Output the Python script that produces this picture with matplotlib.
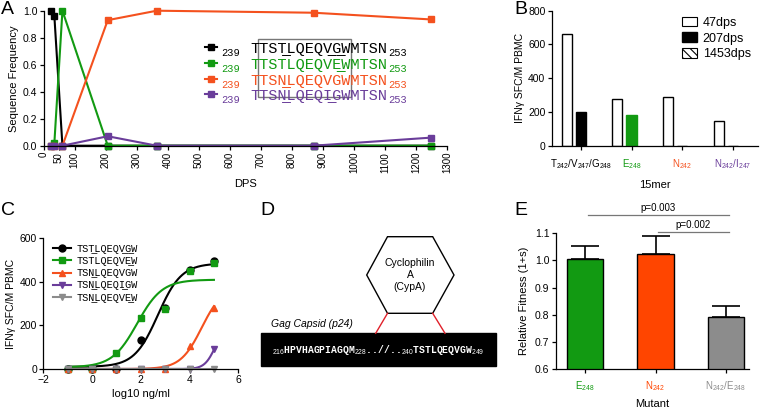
import numpy as np
import matplotlib
matplotlib.use('Agg')
import matplotlib.pyplot as plt
import matplotlib.patches as mpatches
import matplotlib.lines as mlines
from matplotlib.patches import Rectangle, Polygon

plt.rcParams['font.family'] = ['Liberation Sans', 'DejaVu Sans']
plt.rcParams['mathtext.fontset'] = 'custom'
plt.rcParams['mathtext.rm'] = 'Liberation Sans'
plt.rcParams['mathtext.it'] = 'Liberation Sans:italic'
plt.rcParams['mathtext.bf'] = 'Liberation Sans:bold'
plt.rcParams['hatch.linewidth'] = 0.8
plt.rcParams['axes.linewidth'] = 0.9
plt.rcParams['xtick.major.width'] = 0.9
plt.rcParams['ytick.major.width'] = 0.9
plt.rcParams['xtick.major.size'] = 3
plt.rcParams['ytick.major.size'] = 3

GREEN = '#129a12'
RED = '#f4511e'
PURPLE = '#6a3d9a'
GRAY = '#8c8c8c'
ORANGE = '#ff4500'
MONO = ['Liberation Mono', 'DejaVu Sans Mono']
UL = '\u0332'

# ---- panel A data ----
dps = [24, 35, 61, 207, 365, 870, 1250]
freq_wt = [1.0, 0.96, 0.0, 0.0, 0.0, 0.0, 0.0]
freq_e248 = [0.0, 0.02, 1.0, 0.0, 0.0, 0.0, 0.0]
freq_n242 = [0.0, 0.0, 0.0, 0.93, 1.0, 0.985, 0.935]
freq_n242_i247 = [0.0, 0.0, 0.0, 0.07, 0.0, 0.0, 0.06]
seqA = ['TTST' + UL + 'LQEQV' + UL + 'G' + UL + 'WMTSN',
        'TTSTLQEQVE' + UL + 'WMTSN',
        'TTSN' + UL + 'LQEQVGWMTSN',
        'TTSN' + UL + 'LQEQI' + UL + 'GWMTSN']
seqA_start, seqA_end = '239', '253'

# ---- panel B data ----
peptides = ['T$_{242}$/V$_{247}$/G$_{248}$', 'E$_{248}$', 'N$_{242}$', 'N$_{242}$/I$_{247}$']
pep_colors = ['black', GREEN, RED, PURPLE]
sfc_47 = [660, 275, 290, 145]
sfc_207 = [200, 180, 0, 0]
sfc_1453 = [0, 0, 0, 0]
col_207 = ['black', GREEN, 'black', 'black']

# ---- panel C data ----
log_conc = [-1, 0, 1, 2, 3, 4, 5]
c_wt = [0, 0, 0, 133, 278, 455, 495]
c_e248 = [0, 0, 75, 235, 275, 452, 488]
c_n242 = [0, 0, 0, 0, 0, 106, 281]
c_n242_i247 = [0, 0, 0, 0, 0, 0, 92]
c_n242_e248 = [0, 0, 0, 0, 0, 0, 0]
# 4PL fit parameters: bottom, top, logEC50, hill
fit_wt = (10, 485, 2.7, 0.9)
fit_e248 = (8, 410, 1.85, 0.85)
fit_n242 = (0, 380, 4.5, 1.0)
fit_n242_i247 = (0, 200, 5.05, 2.0)
fit_n242_e248 = (0, 0, 5.0, 1.0)
seqC = ['TST' + UL + 'LQEQV' + UL + 'G' + UL + 'W',
        'TSTLQEQVE' + UL + 'W',
        'TSN' + UL + 'LQEQVGW',
        'TSN' + UL + 'LQEQI' + UL + 'GW',
        'TSN' + UL + 'LQEQVE' + UL + 'W']

# ---- panel E data ----
mutants = ['E$_{248}$', 'N$_{242}$', 'N$_{242}$/E$_{248}$']
mut_colors = [GREEN, ORANGE, GRAY]
fitness = [1.006, 1.022, 0.790]
fitness_err = [0.048, 0.068, 0.042]
comparisons = [(0, 2, 'p=0.003', 1.167), (1, 2, 'p=0.002', 1.104)]

W, H = 760, 411
fig = plt.figure(figsize=(7.6, 4.11), dpi=100)


def box(l, t, r, b):
    return [l / W, 1 - b / H, (r - l) / W, (b - t) / H]


def fx(x):
    return x / W


def fy(y):
    return 1 - y / H


def style(ax):
    ax.spines['top'].set_visible(False)
    ax.spines['right'].set_visible(False)
    ax.tick_params(labelsize=7.5, pad=1.5)


# ================= A =================
axA = fig.add_axes(box(43.5, 10.7, 447, 145.7))
style(axA)
colA = ['black', GREEN, RED, PURPLE]
for y, c in zip([freq_wt, freq_e248, freq_n242, freq_n242_i247], colA):
    axA.plot(dps, y, color=c, marker='s', ms=4, lw=1.5, clip_on=False)
axA.set_xlim(0, 1300)
axA.set_ylim(0, 1.0)
axA.set_xticks([0, 50] + list(range(100, 1301, 100)))
axA.set_yticks(np.arange(0, 1.01, 0.2))
axA.yaxis.set_major_formatter(matplotlib.ticker.FormatStrFormatter('%.1f'))
axA.tick_params(axis='x', labelrotation=90, labelsize=7)
axA.tick_params(axis='y', labelsize=7.5)
axA.set_xlabel('DPS', fontsize=8, labelpad=4)
axA.set_ylabel('Sequence Frequency', fontsize=8, labelpad=3)

# hand-made legend (rows are tighter than a matplotlib legend allows)
cw = 11 * 0.6 * 100 / 72          # monospace char width in px
x_seq = 250
row0, drow = 47.3, 15.7
for i, (s, c) in enumerate(zip(seqA, colA)):
    yr = row0 + i * drow
    fig.add_artist(mlines.Line2D([fx(205), fx(211), fx(217)], [fy(yr)] * 3, color=c, lw=1.5,
                                 marker='s', ms=4, markevery=[1], transform=fig.transFigure))
    fig.text(fx(221.5), fy(yr + 9), seqA_start, color=c, family=MONO, fontsize=7.5, va='baseline')
    fig.text(fx(x_seq), fy(yr + 6), s, color=c, family=MONO, fontsize=11, va='baseline')
    fig.text(fx(x_seq + 15 * cw + 1), fy(yr + 9), seqA_end, color=c, family=MONO, fontsize=7.5,
             va='baseline')
fig.patches.append(Rectangle((fx(x_seq + cw - 1.5), fy(97.3)), (10 * cw + 1.5) / W, 58.3 / H,
                             fill=False, ec='#777777', lw=1.0, transform=fig.transFigure, figure=fig))

# ================= B =================
axB = fig.add_axes(box(551.7, 10.7, 758, 145.7))
style(axB)
xb = np.arange(len(peptides))
axB.bar(xb - 0.28, sfc_47, 0.2, color='white', edgecolor='black', lw=1)
axB.bar(xb, sfc_207, 0.2, color=col_207, edgecolor=col_207, lw=1)
axB.bar(xb + 0.28, sfc_1453, 0.2, color='white', edgecolor='black', hatch='\\\\\\\\', lw=0)
axB.set_xlim(-0.574, 3.495)
axB.set_ylim(0, 800)
axB.set_yticks([0, 200, 400, 600, 800])
axB.set_xticks(xb)
axB.set_xticklabels(peptides, fontsize=7)
for t, c in zip(axB.get_xticklabels(), pep_colors):
    t.set_color(c)
axB.tick_params(axis='x', pad=5)
axB.set_xlabel('15mer', fontsize=8, labelpad=7)
axB.set_ylabel('IFN\u03b3 SFC/M PBMC', fontsize=7.5, labelpad=2)
hB = [mpatches.Patch(facecolor='white', edgecolor='black', lw=0.8),
      mpatches.Patch(facecolor='black', edgecolor='black'),
      mpatches.Patch(facecolor='white', edgecolor='black', hatch='\\\\\\\\', lw=0.8)]
axB.legend(hB, ['47dps', '207dps', '1453dps'], loc='upper right', bbox_to_anchor=(1.02, 1.04),
           frameon=False, fontsize=9, handlelength=1.2, handleheight=0.8, handletextpad=0.5,
           labelspacing=0.3)

# ================= C =================
axC = fig.add_axes(box(43.3, 238.3, 238.3, 369))
style(axC)
xs = np.linspace(-1, 5, 200)
series_C = [(c_wt, fit_wt, 'black', 'o', 5),
            (c_e248, fit_e248, GREEN, 's', 5),
            (c_n242, fit_n242, RED, '^', 5),
            (c_n242_i247, fit_n242_i247, PURPLE, 'v', 4),
            (c_n242_e248, fit_n242_e248, GRAY, 'v', 5)]
hC = []
for vals, (bot, top, ec50, hill), c, m, ms in series_C:
    curve = bot + (top - bot) / (1 + 10 ** ((ec50 - xs) * hill))
    axC.plot(xs, curve, color=c, lw=1.5)
    axC.plot(log_conc, vals, ls='none', marker=m, ms=ms, color=c, clip_on=False)
    hC.append(mlines.Line2D([], [], color=c, marker=m, ms=ms, lw=1.5))
axC.set_xlim(-2, 6)
axC.set_ylim(0, 600)
axC.set_xticks([-2, 0, 2, 4, 6])
axC.set_yticks([0, 200, 400, 600])
axC.set_xlabel('log10 ng/ml', fontsize=8, labelpad=3)
axC.set_ylabel('IFN\u03b3 SFC/M PBMC', fontsize=7.5, labelpad=3)
axC.legend(hC, seqC, loc='upper left', bbox_to_anchor=(0.0, 1.03), frameon=False,
           handlelength=1.8, handletextpad=0.5, labelspacing=0.22,
           prop={'family': MONO, 'size': 7.4})

# ================= D =================
axD = fig.add_axes([250 / W, 0, 250 / W, 211 / H])
axD.set_xlim(250, 500)
axD.set_ylim(411, 200)
axD.axis('off')
hexagon = Polygon([(366.7, 275), (387.5, 236.7), (432.7, 236.7), (454, 275),
                   (432.7, 313.3), (387.5, 313.3)], closed=True, fill=False, ec='black', lw=1)
axD.add_patch(hexagon)
axD.text(410, 275, 'Cyclophilin\nA\n(CypA)', ha='center', va='center', fontsize=7.5,
         linespacing=1.25)
axD.plot([387.5, 375.7], [313.3, 333.3], color='#e0202a', lw=1)
axD.plot([432.7, 445], [313.3, 333.3], color='#e0202a', lw=1)
axD.add_patch(Rectangle((260.7, 333.3), 235, 32.4, color='black'))
axD.text(271, 323.5, 'Gag Capsid (p24)', style='italic', fontsize=7.5, ha='left', va='center')
axD.text(378, 350, '$_{216}$HPVHAGPIAGQM$_{228}$..//..$_{240}$TSTLQEQVGW$_{249}$',
         color='white', ha='center', va='center', fontsize=7, family=MONO, weight='bold')

# ================= E =================
axE = fig.add_axes(box(555.7, 233.3, 749, 369))
style(axE)
xe = np.arange(len(mutants))
axE.bar(xe, fitness, 0.52, color=mut_colors, edgecolor='black', lw=1)
axE.errorbar(xe, fitness, yerr=[[0] * len(xe), fitness_err], fmt='none', ecolor='black',
             elinewidth=1.2, capsize=10, capthick=1.2)
axE.set_xlim(-0.42, 2.33)
axE.set_ylim(0.6, 1.1)
axE.set_yticks(np.arange(0.6, 1.101, 0.1))
axE.yaxis.set_major_formatter(matplotlib.ticker.FormatStrFormatter('%.1f'))
axE.set_xticks(xe)
axE.set_xticklabels(mutants, fontsize=7)
for t, c in zip(axE.get_xticklabels(), mut_colors):
    t.set_color(c)
axE.tick_params(axis='x', pad=4)
axE.set_xlabel('Mutant', fontsize=8, labelpad=5)
axE.set_ylabel('Relative Fitness (1+s)', fontsize=8, labelpad=4)
for i, j, lab, yy in comparisons:
    axE.plot([i + 0.04, j + 0.04], [yy, yy], color='#777777', lw=0.9, clip_on=False)
    axE.text((i + j) / 2 + 0.04, yy + 0.008, lab, ha='center', va='bottom', fontsize=7)

# panel letters
for lab, x, y in [('A', 1, 1), ('B', 514, 1), ('C', 1, 202), ('D', 260, 202), ('E', 514, 202)]:
    fig.text(x / W, 1 - y / H, lab, fontsize=14, ha='left', va='top')

fig.savefig('out.png', dpi=100)
